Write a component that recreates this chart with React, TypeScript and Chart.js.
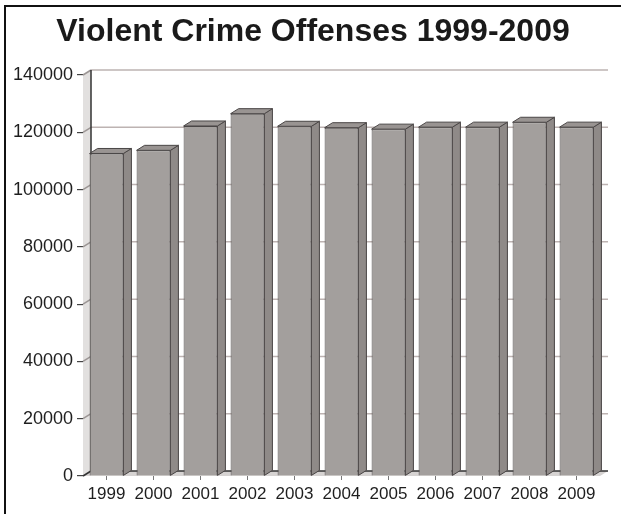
import React, { useEffect, useRef } from "react";
import { Chart, registerables } from "chart.js";

Chart.register(...registerables);

const title = "Violent Crime Offenses 1999-2009";
const years = ["1999", "2000", "2001", "2002", "2003", "2004", "2005", "2006", "2007", "2008", "2009"];
const offenses = [112600, 113700, 122200, 126500, 122100, 121600, 121100, 121800, 121800, 123500, 121800];
const yTicks = [0, 20000, 40000, 60000, 80000, 100000, 120000, 140000];

const DX = 8;
const DY = 5;
const FONT = "'Liberation Sans', Arial, Helvetica, sans-serif";

const titlePlugin = {
  id: "centeredTitle",
  afterDraw(chart: any) {
    const { ctx } = chart;
    ctx.save();
    ctx.font = `bold 32px ${FONT}`;
    ctx.fillStyle = "#1a1a1a";
    ctx.textAlign = "center";
    ctx.textBaseline = "alphabetic";
    ctx.fillText(title, 313, 41);
    ctx.restore();
  },
};

const threeD = {
  id: "threeD",
  beforeDatasetsDraw(chart: any) {
    const { ctx, chartArea } = chart;
    const ys = chart.scales.y;
    const left = chartArea.left;
    const right = chartArea.right;
    const bottom = ys.getPixelForValue(0);
    const top = ys.getPixelForValue(yTicks[yTicks.length - 1]);
    ctx.save();
    // left side wall
    ctx.fillStyle = "#e2e0df";
    ctx.beginPath();
    ctx.moveTo(left, top);
    ctx.lineTo(left + DX, top - DY);
    ctx.lineTo(left + DX, bottom - DY);
    ctx.lineTo(left, bottom);
    ctx.closePath();
    ctx.fill();
    // floor
    ctx.fillStyle = "#d6d3d2";
    ctx.beginPath();
    ctx.moveTo(left, bottom);
    ctx.lineTo(left + DX, bottom - DY);
    ctx.lineTo(right + DX, bottom - DY);
    ctx.lineTo(right, bottom);
    ctx.closePath();
    ctx.fill();
    // gridlines on back wall
    ctx.lineWidth = 1.5;
    yTicks.forEach((v) => {
      if (v === 0) return;
      const y = ys.getPixelForValue(v);
      ctx.strokeStyle = "#bdb3b2";
      ctx.beginPath();
      ctx.moveTo(left + DX, y - DY);
      ctx.lineTo(right + DX, y - DY);
      ctx.stroke();
      ctx.strokeStyle = "#9c9695";
      ctx.beginPath();
      ctx.moveTo(left, y);
      ctx.lineTo(left + DX, y - DY);
      ctx.stroke();
    });
    // back wall left edge and floor back line
    ctx.strokeStyle = "#333";
    ctx.lineWidth = 1.5;
    ctx.beginPath();
    ctx.moveTo(left + DX, top - DY);
    ctx.lineTo(left + DX, bottom - DY);
    ctx.lineTo(right + DX, bottom - DY);
    ctx.stroke();
    ctx.beginPath();
    ctx.moveTo(left, bottom);
    ctx.lineTo(left + DX, bottom - DY);
    ctx.stroke();

    // bar side and top faces
    const meta = chart.getDatasetMeta(0);
    ctx.lineWidth = 1;
    ctx.strokeStyle = "#4a4646";
    meta.data.forEach((bar: any) => {
      const { x, y, base, width } = bar.getProps(["x", "y", "base", "width"], true);
      const l = x - width / 2;
      const r = x + width / 2;
      ctx.fillStyle = "#8f8a88";
      ctx.beginPath();
      ctx.moveTo(r, y);
      ctx.lineTo(r + DX, y - DY);
      ctx.lineTo(r + DX, base - DY);
      ctx.lineTo(r, base);
      ctx.closePath();
      ctx.fill();
      ctx.stroke();
      ctx.fillStyle = "#999492";
      ctx.beginPath();
      ctx.moveTo(l, y);
      ctx.lineTo(l + DX, y - DY);
      ctx.lineTo(r + DX, y - DY);
      ctx.lineTo(r, y);
      ctx.closePath();
      ctx.fill();
      ctx.stroke();
    });
    ctx.restore();
  },
};

export default function App() {
  const ref = useRef<HTMLCanvasElement>(null);
  useEffect(() => {
    if (!ref.current) return;
    const chart = new Chart(ref.current, {
      type: "bar",
      data: {
        labels: years,
        datasets: [
          {
            data: offenses,
            backgroundColor: "#a39f9d",
            borderColor: "#4a4646",
            borderWidth: 1,
            barPercentage: 0.72,
            categoryPercentage: 1,
          },
        ],
      },
      plugins: [threeD, titlePlugin],
      options: {
        responsive: false,
        animation: false,
        layout: { padding: { left: 0, right: 21, top: 75, bottom: 0 } },
        plugins: {
          legend: { display: false },
          tooltip: { enabled: false },
          title: { display: false },
        },
        scales: {
          x: {
            afterFit: (s: any) => {
              s.height = 38;
            },
            grid: { drawOnChartArea: false, offset: false, tickLength: 4, color: "#777" },
            border: { display: false },
            ticks: { color: "#1e1e1e", padding: 4, font: { family: FONT, size: 17 } },
          },
          y: {
            min: 0,
            max: 140000,
            afterFit: (s: any) => {
              s.width = 83;
            },
            afterBuildTicks: (s: any) => {
              s.ticks = yTicks.map((v) => ({ value: v }));
            },
            grid: { drawOnChartArea: false, tickLength: 6, color: "#444", lineWidth: 1.2 },
            border: { display: false },
            ticks: {
              color: "#1e1e1e",
              padding: 4,
              font: { family: FONT, size: 18 },
              callback: (v: any) => String(v),
            },
          },
        },
      },
    });
    return () => chart.destroy();
  }, []);
  return (
    <div style={{ position: "fixed", left: 0, top: 0, width: 621, height: 514, background: "#fff", overflow: "hidden" }}>
      <div
        style={{
          position: "absolute",
          left: 4,
          top: 5,
          width: 640,
          height: 540,
          borderLeft: "2.5px solid #111",
          borderTop: "2.5px solid #111",
        }}
      />
      <canvas ref={ref} width={621} height={514} style={{ position: "absolute", left: 0, top: 0 }} />
    </div>
  );
}
